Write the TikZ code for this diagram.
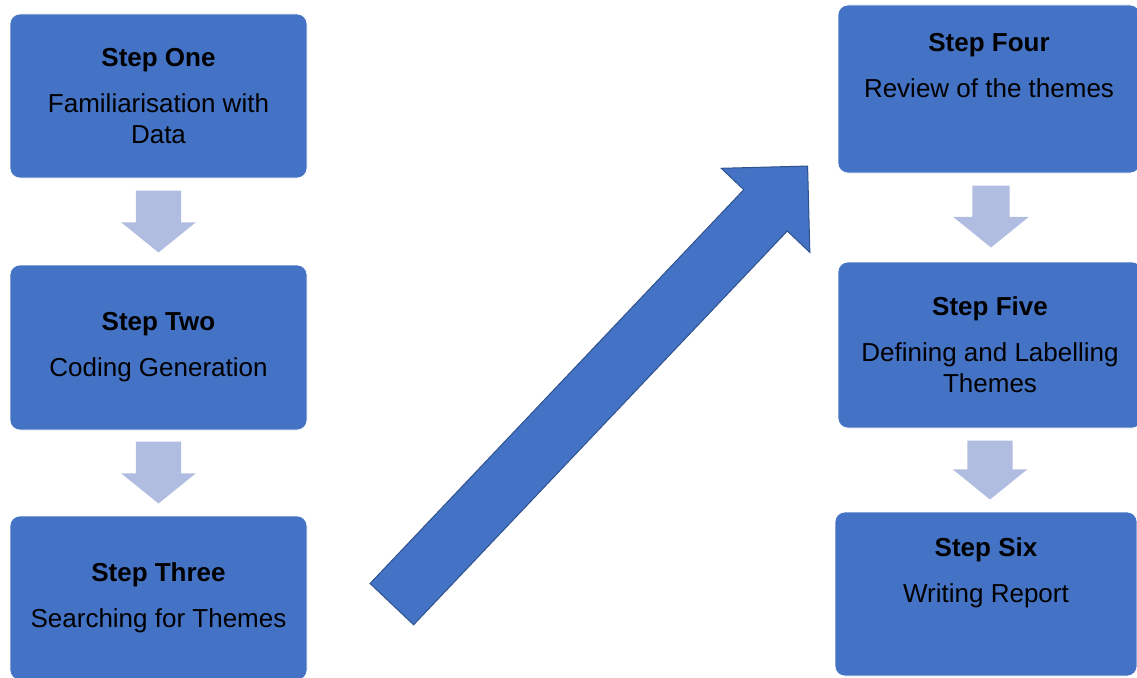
\documentclass[tikz,border=0pt]{standalone}
\usepackage{fontspec}
\setmainfont{Liberation Sans}
\usetikzlibrary{shapes.arrows,calc}

\definecolor{stepblue}{HTML}{4472C4}
\definecolor{stepedge}{HTML}{2F528F}
\definecolor{arrowtint}{RGB}{176,188,224}

\tikzset{
  stepbox/.style={rectangle, rounded corners=10pt, fill=stepblue, draw=white, line width=0.6pt,
    align=center, font=\fontsize{26}{31}\selectfont, inner sep=0pt},
  downarrow/.style={single arrow, fill=arrowtint, draw=none, rotate=-90, anchor=tail,
    inner xsep=0pt, inner ysep=22.5pt, minimum height=62pt, minimum width=74pt,
    single arrow head extend=14.5pt, single arrow tip angle=102},
  bigarrow/.style={single arrow, fill=stepblue, draw=stepedge, line width=1pt, rotate=46.5,
    anchor=tail, inner xsep=0pt, inner ysep=29.5pt, minimum height=604pt, minimum width=121.7pt,
    single arrow head extend=31.1pt, single arrow tip angle=90}
}

\begin{document}
\begin{tikzpicture}[x=1pt,y=-1pt]

   \useasboundingbox (0,0) rectangle (1137,677);
   \clip (0,0) rectangle (1137,677);

   \node (StepOne) at (158.5,96) [stepbox, minimum width=297pt, minimum height=164pt]
      {\textbf{Step One}\\[15pt]Familiarisation with\\Data};
   \node (StepTwo) at (158.5,347.5) [stepbox, minimum width=297pt, minimum height=165pt]
      {\textbf{Step Two}\\[15pt]Coding Generation};
   \node (StepThree) at (158.5,598) [stepbox, minimum width=297pt, minimum height=164pt]
      {\textbf{Step Three}\\[15pt]Searching for Themes};

   \node (StepFour) at (989,89) [stepbox, minimum width=302pt, minimum height=168pt]
      {\textbf{Step Four}\\[15pt]Review of the themes\\[17pt]\mbox{}};
   \node (StepFive) at (990,345) [stepbox, minimum width=304pt, minimum height=166pt]
      {\textbf{Step Five}\\[15pt]Defining and Labelling\\Themes};
   \node (StepSix) at (986,594) [stepbox, minimum width=302pt, minimum height=164pt]
      {\textbf{Step Six}\\[15pt]Writing Report\\[17pt]\mbox{}};

   \node (OneToTwo) at ($(StepOne.south)+(0,12)$) [downarrow] {};
   \node (TwoToThree) at ($(StepTwo.south)+(0,11)$) [downarrow] {};
   \node (FourToFive) at ($(StepFour.south)+(2,12)$) [downarrow, inner ysep=18.5pt, single arrow head extend=19pt] {};
   \node (FiveToSix) at ($(StepFive.south)+(0,12)$) [downarrow, minimum height=59pt] {};

   \node (ThreeToFour) at (391.5,604.5) [bigarrow] {};

\end{tikzpicture}
\end{document}
